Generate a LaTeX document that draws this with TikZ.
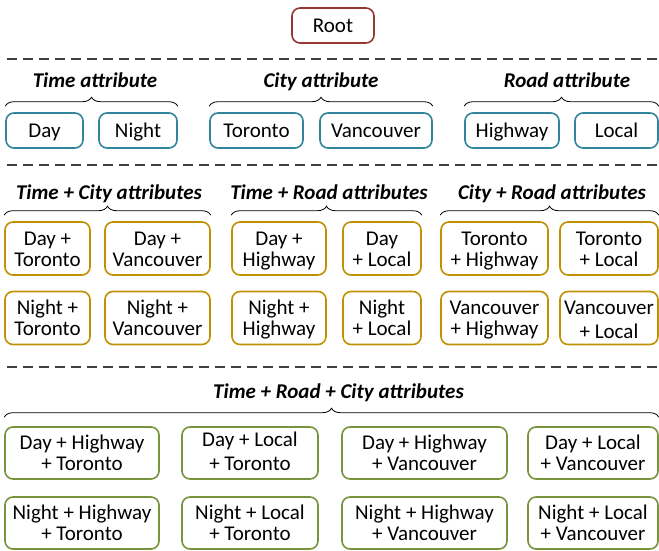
\documentclass[tikz,border=0pt]{standalone}
\usepackage{fontspec}
\setmainfont{Carlito}
\usepackage{tikz}
\usetikzlibrary{positioning, decorations.pathreplacing}
\definecolor{rootred}{HTML}{943634}
\definecolor{singleteal}{HTML}{31849B}
\definecolor{pairgold}{HTML}{BF9000}
\definecolor{triplegreen}{HTML}{77933C}
\definecolor{sepgray}{HTML}{404040}

\begin{document}
\begin{tikzpicture}[x=1pt, y=-1pt,
    box/.style={draw, rounded corners=8pt, line width=1.6pt, inner sep=0pt,
        align=center, font=\fontsize{21}{21}\selectfont},
    oneline/.style={text height=17pt, text depth=3pt},
    twoline/.style={text height=38pt, text depth=3pt},
    rootbox/.style={box, oneline, draw=rootred, minimum width=82pt, minimum height=35pt},
    single/.style={box, oneline, draw=singleteal, minimum height=35pt},
    pair/.style={box, twoline, draw=pairgold, minimum height=53pt},
    triple/.style={box, twoline, draw=triplegreen, minimum height=52pt},
    head/.style={oneline, font=\fontsize{21}{21}\selectfont\bfseries\itshape},
    sep/.style={draw=sepgray, line width=1.2pt, dash pattern=on 10pt off 6pt},
    grp/.style={decorate, decoration={brace, amplitude=9pt, raise=6pt}, line width=0.8pt}]
\useasboundingbox (0,0) rectangle (659,550);

\node[rootbox] (root) at (333,25.5) {Root};

\foreach \y in {59, 165, 367}
    \draw[sep] (7,\y) -- (659,\y);

\node[head] (hTime) at (95,80) {Time attribute};
\node[head] (hCity) at (321,80) {City attribute};
\node[head] (hRoad) at (567,80) {Road attribute};

\foreach \n/\x/\w/\t in {
    day/44.5/77/Day, night/138/78/Night,
    toronto/256.5/93/Toronto, vancouver/376/112/Vancouver,
    highway/512/94/Highway, local/616.5/83/Local}
    \node[single, minimum width=\w pt] (\n) at (\x,130.5) {\t};

\draw[grp] (day.north west) -- (night.north east);
\draw[grp] (toronto.north west) -- (vancouver.north east);
\draw[grp] (highway.north west) -- (local.north east);

\node[head] (hTC) at (109,192) {Time + City attributes};
\node[head] (hTR) at (329,192) {Time + Road attributes};
\node[head] (hCR) at (552,192) {City + Road attributes};

\foreach \n/\x/\y/\w/\t in {
    dt/47.5/248.5/85/{Day +\\Toronto}, dv/157.5/248.5/105/{Day +\\Vancouver},
    dh/279/248.5/94/{Day +\\Highway}, dl/382/248.5/78/{Day\\+ Local},
    th/494.5/248.5/107/{Toronto\\+ Highway}, tl/609/248.5/98/{Toronto\\+ Local},
    nt/47.5/318/85/{Night +\\Toronto}, nv/157.5/318/105/{Night +\\Vancouver},
    nh/279/318/94/{Night +\\Highway}, nl/382/318/78/{Night\\+ Local},
    vh/494.5/318/107/{Vancouver\\+ Highway}, vl/609/318/98/{Vancouver\\\raisebox{-3pt}{+ Local}}}
    \node[pair, minimum width=\w pt] (\n) at (\x,\y) {\t};

\draw[grp] (dt.north west) -- (dv.north east);
\draw[grp] (dh.north west) -- (dl.north east);
\draw[grp] (th.north west) -- (tl.north east);

\node[head] (hTRC) at (338.5,391) {Time + Road + City attributes};

\foreach \n/\x/\y/\w/\t in {
    dht/82/453/154/{Day + Highway\\+ Toronto}, dlt/250/453/136/{Day + Local\\[3pt]+ Toronto},
    dhv/424.5/453/165/{Day + Highway\\+ Vancouver}, dlv/593/453/130/{Day + Local\\+ Vancouver},
    nht/82/523/154/{Night + Highway\\+ Toronto}, nlt/250/523/136/{Night + Local\\+ Toronto},
    nhv/424.5/523/165/{Night + Highway\\+ Vancouver}, nlv/593/523/130/{Night + Local\\+ Vancouver}}
    \node[triple, minimum width=\w pt] (\n) at (\x,\y) {\t};

\draw[grp, decoration={raise=9pt}] (dht.north west) -- (dlv.north east);

\end{tikzpicture}
\end{document}
